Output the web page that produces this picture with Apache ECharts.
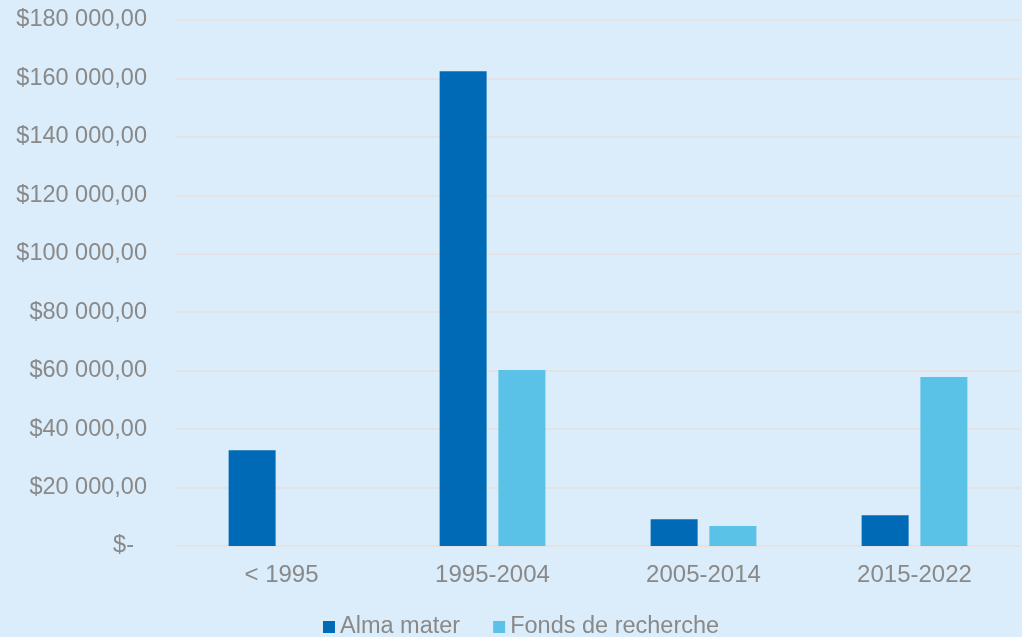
<!DOCTYPE html>
<html>
<head>
<meta charset="utf-8">
<script src="https://cdn.jsdelivr.net/npm/echarts@6/dist/echarts.min.js"></script>
<style>
html,body{margin:0;padding:0;background:#DBEDFA;}
#c{width:1022px;height:637px;}
</style>
</head>
<body>
<div id="c"></div>
<script>
const categories = ['< 1995', '1995-2004', '2005-2014', '2015-2022'];
const almaMater = [32750, 162500, 9150, 10500];
const fondsRecherche = [0, 60200, 6850, 57800];
const seriesNames = ['Alma mater', 'Fonds de recherche'];

function fmt(v) {
  if (v === 0) return '{z|$-}';
  const s = String(Math.round(v)).replace(/\B(?=(\d{3})+(?!\d))/g, ' ');
  return '$' + s + ',00';
}

const chart = echarts.init(document.getElementById('c'));
chart.setOption({
  backgroundColor: '#DBEDFA',
  animation: false,
  textStyle: { fontFamily: 'Liberation Sans, Arial, sans-serif' },
  grid: { left: 176, right: 2, top: 20, bottom: 91, containLabel: false },
  legend: {
    bottom: -7,
    left: 318,
    itemWidth: 12,
    itemHeight: 12,
    itemGap: 33,
    icon: 'rect',
    textStyle: { color: '#898989', fontSize: 23.5 },
    data: seriesNames
  },
  xAxis: {
    type: 'category',
    data: categories,
    axisLine: { show: false },
    axisTick: { show: false },
    axisLabel: { color: '#898989', fontSize: 24, margin: 17 }
  },
  yAxis: {
    type: 'value',
    min: 0,
    max: 180000,
    interval: 20000,
    axisLine: { show: false },
    axisTick: { show: false },
    splitLine: { lineStyle: { color: '#E3E3E6', width: 2 } },
    axisLabel: {
      color: '#898989',
      fontSize: 23.5,
      margin: 29,
      formatter: fmt,
      rich: { z: { color: '#898989', fontSize: 23.5, padding: [0, 13, 0, 0] } }
    }
  },
  series: [
    {
      name: seriesNames[0],
      type: 'bar',
      data: almaMater,
      barWidth: 47,
      barGap: '25%',
      itemStyle: { color: '#006AB6' }
    },
    {
      name: seriesNames[1],
      type: 'bar',
      data: fondsRecherche,
      barWidth: 47,
      barGap: '25%',
      itemStyle: { color: '#5BC2E7' }
    }
  ]
});
</script>
</body>
</html>
